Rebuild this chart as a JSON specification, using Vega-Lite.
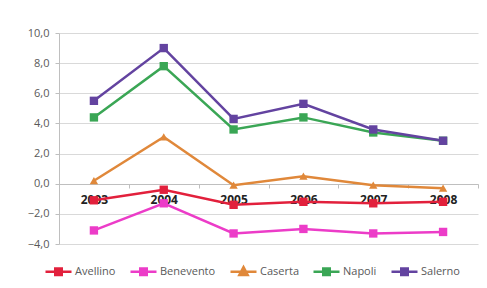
{
  "$schema": "https://vega.github.io/schema/vega-lite/v6.json",
  "width": 419,
  "height": 211,
  "autosize": "none",
  "padding": {"left": 59, "top": 33, "right": 9, "bottom": 44},
  "background": "white",
  "config": {"view": {"stroke": null}, "font": "Open Sans"},
  "data": {"values": [
    {"year": "2003", "region": "Avellino", "value": -1.1},
    {"year": "2004", "region": "Avellino", "value": -0.4},
    {"year": "2005", "region": "Avellino", "value": -1.4},
    {"year": "2006", "region": "Avellino", "value": -1.2},
    {"year": "2007", "region": "Avellino", "value": -1.3},
    {"year": "2008", "region": "Avellino", "value": -1.2},
    {"year": "2003", "region": "Benevento", "value": -3.1},
    {"year": "2004", "region": "Benevento", "value": -1.3},
    {"year": "2005", "region": "Benevento", "value": -3.3},
    {"year": "2006", "region": "Benevento", "value": -3.0},
    {"year": "2007", "region": "Benevento", "value": -3.3},
    {"year": "2008", "region": "Benevento", "value": -3.2},
    {"year": "2003", "region": "Caserta", "value": 0.2},
    {"year": "2004", "region": "Caserta", "value": 3.1},
    {"year": "2005", "region": "Caserta", "value": -0.1},
    {"year": "2006", "region": "Caserta", "value": 0.5},
    {"year": "2007", "region": "Caserta", "value": -0.1},
    {"year": "2008", "region": "Caserta", "value": -0.3},
    {"year": "2003", "region": "Napoli", "value": 4.4},
    {"year": "2004", "region": "Napoli", "value": 7.8},
    {"year": "2005", "region": "Napoli", "value": 3.6},
    {"year": "2006", "region": "Napoli", "value": 4.4},
    {"year": "2007", "region": "Napoli", "value": 3.4},
    {"year": "2008", "region": "Napoli", "value": 2.85},
    {"year": "2003", "region": "Salerno", "value": 5.5},
    {"year": "2004", "region": "Salerno", "value": 9.0},
    {"year": "2005", "region": "Salerno", "value": 4.3},
    {"year": "2006", "region": "Salerno", "value": 5.3},
    {"year": "2007", "region": "Salerno", "value": 3.6},
    {"year": "2008", "region": "Salerno", "value": 2.85}
  ]},
  "encoding": {
    "x": {
      "field": "year", "type": "ordinal",
      "scale": {"paddingInner": 0, "paddingOuter": 0},
      "axis": {
        "title": null, "labelAngle": 0, "offset": -60, "tickBand": "extent",
        "domainColor": "#bfbfbf", "tickColor": "#bfbfbf", "tickSize": 4,
        "labelColor": "#222222", "labelFontSize": 12, "labelFontWeight": "bold",
        "labelPadding": 6, "zindex": 0
      }
    },
    "y": {
      "field": "value", "type": "quantitative",
      "scale": {"domain": [-4, 10], "nice": false},
      "axis": {
        "title": null, "values": [-4, -2, 0, 2, 4, 6, 8, 10],
        "labelExpr": "replace(format(datum.value, '.1f'), '.', ',')",
        "gridColor": "#d9d9d9", "domainColor": "#bfbfbf", "tickColor": "#bfbfbf",
        "tickSize": 4, "labelColor": "#595959", "labelFontSize": 11, "labelPadding": 6
      }
    },
    "color": {
      "field": "region", "type": "nominal",
      "scale": {
        "domain": ["Avellino", "Benevento", "Caserta", "Napoli", "Salerno"],
        "range": ["#e2203c", "#ec3cc8", "#e0883a", "#3aa655", "#6343a0"]
      },
      "legend": {
        "title": null, "orient": "none", "direction": "horizontal", "columns": 5,
        "legendX": -15, "legendY": 224,
        "symbolSize": 676, "symbolStrokeWidth": 2.5, "symbolOpacity": 1,
        "labelFontSize": 11, "labelColor": "#595959", "labelOffset": 2,
        "columnPadding": 9,
        "encode": {"symbols": {"update": {
          "shape": {"signal": "datum.value === 'Caserta' ? 'M-1,0H1M0,-0.35L0.32,0.25H-0.32Z' : 'M-1,0H1M-0.25,-0.25H0.25V0.25H-0.25Z'"},
          "fillOpacity": {"value": 1}
        }}}
      }
    }
  },
  "layer": [
    {"mark": {"type": "line", "strokeWidth": 2.5}},
    {
      "transform": [{"filter": "datum.region !== 'Caserta'"}],
      "mark": {"type": "point", "shape": "square", "filled": true, "size": 70, "opacity": 1}
    },
    {
      "transform": [{"filter": "datum.region === 'Caserta'"}],
      "mark": {"type": "point", "shape": "triangle-up", "filled": true, "size": 70, "opacity": 1}
    }
  ]
}
